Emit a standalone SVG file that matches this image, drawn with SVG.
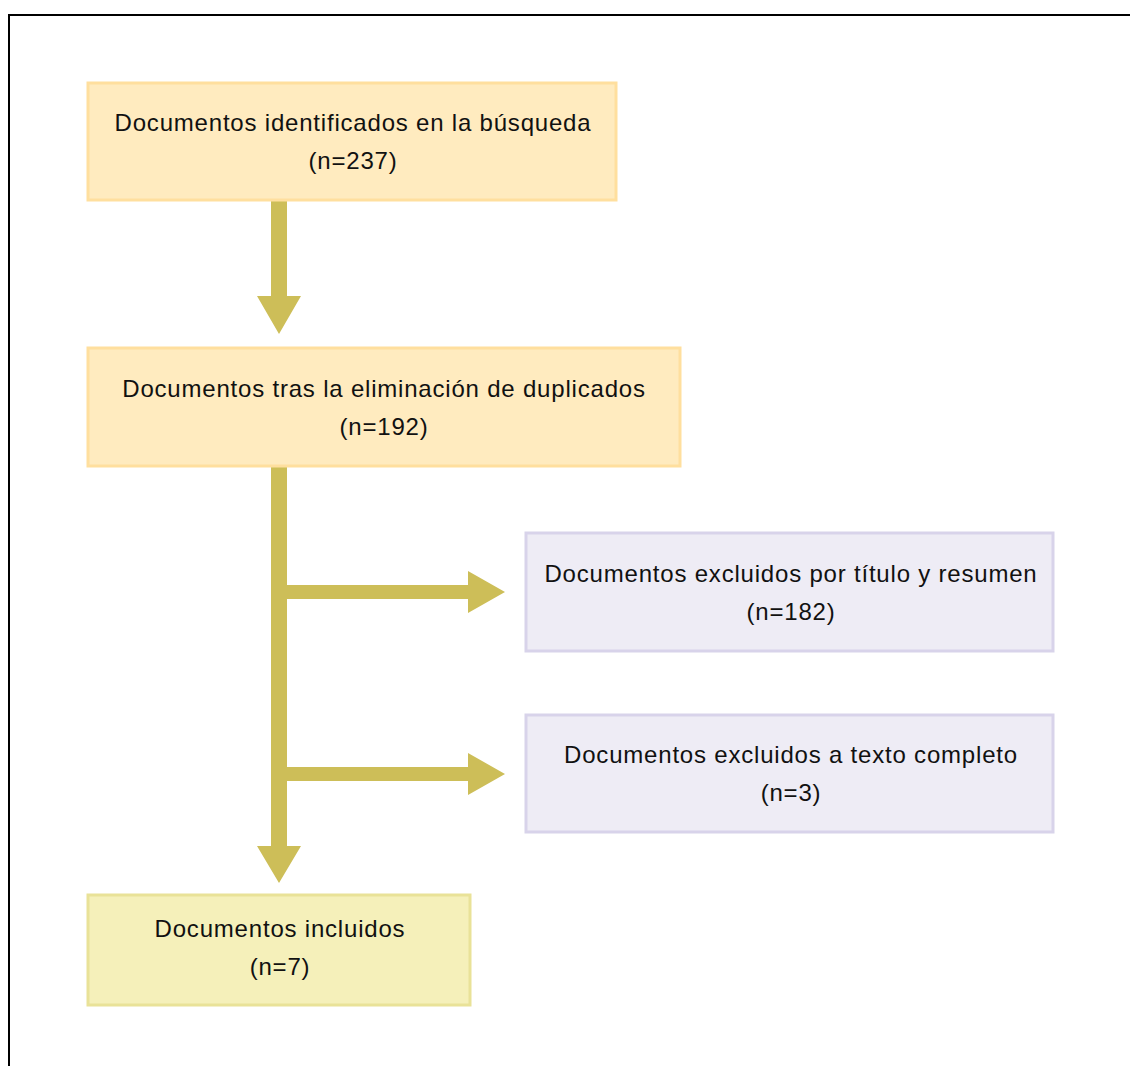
<svg xmlns="http://www.w3.org/2000/svg" width="1130" height="1066" viewBox="0 0 1130 1066">
<style>
text{font-family:"Liberation Sans",Arial,sans-serif;font-size:24px;letter-spacing:0.8px;fill:#111;text-anchor:middle}
.peach{fill:#FFEBBF;stroke:#FFDF9E;stroke-width:3}
.lav{fill:#EEECF5;stroke:#D8D3EA;stroke-width:3}
.yel{fill:#F5F0BA;stroke:#E9E298;stroke-width:3}
.arr{fill:#CDBE58}
</style>
<rect width="1130" height="1066" fill="#fff"/>
<path d="M9,1066 V15 H1130" fill="none" stroke="#000" stroke-width="2"/>
<g id="connectors">
<path class="arr" d="M271,201 H287 V296 H301 L279,334 L257,296 H271 Z"/>
<path class="arr" d="M271,467 H287 V585 H468 V571 L505,592 L468,613 V599 H287 V767 H468 V753 L505,774 L468,795 V781 H287 V846 H301 L279,883 L257,846 H271 Z"/>
</g>
<g id="n1"><rect class="peach" x="88" y="83" width="528" height="117"/>
<text x="353" y="131">Documentos identificados en la búsqueda</text><text x="353" y="169">(n=237)</text></g>
<g id="n2"><rect class="peach" x="88" y="348" width="592" height="118"/>
<text x="384" y="397">Documentos tras la eliminación de duplicados</text><text x="384" y="435">(n=192)</text></g>
<g id="n3"><rect class="lav" x="526" y="533" width="527" height="118"/>
<text x="791" y="582">Documentos excluidos por título y resumen</text><text x="791" y="620">(n=182)</text></g>
<g id="n4"><rect class="lav" x="526" y="715" width="527" height="117"/>
<text x="791" y="763">Documentos excluidos a texto completo</text><text x="791" y="801">(n=3)</text></g>
<g id="n5"><rect class="yel" x="88" y="895" width="382" height="110"/>
<text x="280" y="937">Documentos incluidos</text><text x="280" y="975">(n=7)</text></g>
</svg>
